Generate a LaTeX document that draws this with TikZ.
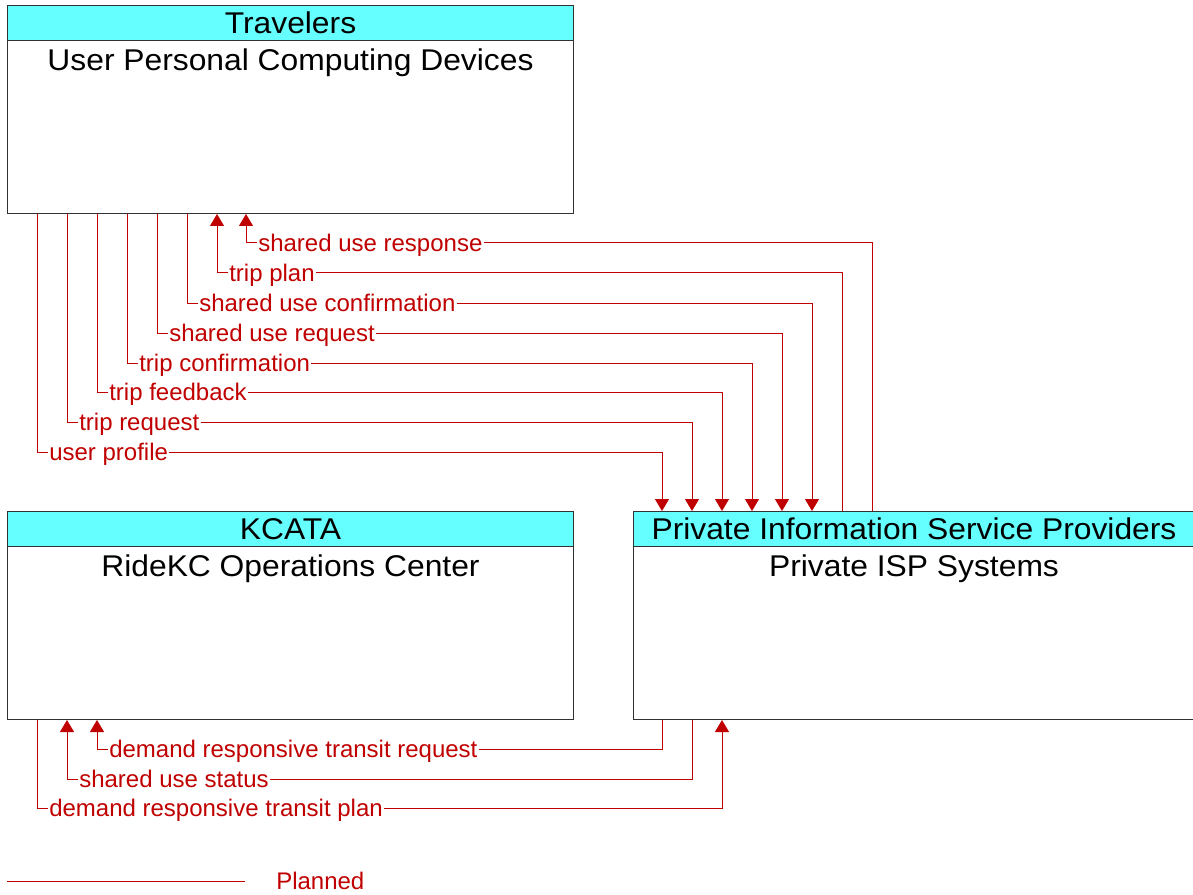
\documentclass[tikz,border=0pt]{standalone}
\usepackage{fontspec}
\setmainfont{Liberation Sans}
\newfontfamily\boxfont[FakeStretch=1.06]{Liberation Sans}
\usetikzlibrary{arrows.meta,positioning}

\definecolor{flowred}{RGB}{192,0,0}
\definecolor{hdrcyan}{RGB}{102,255,255}
\definecolor{boxline}{RGB}{50,50,50}

\tikzset{
  sysbox/.style={draw=boxline, line width=0.75pt, rectangle, inner sep=0pt,
    minimum height=156pt, anchor=north west},
  hdrbox/.style={draw=boxline, fill=hdrcyan, line width=0.75pt, rectangle,
    inner sep=0pt, minimum height=26.5pt, anchor=north west,
    text height=16.1pt, text depth=0pt, font=\boxfont\fontsize{22.5}{27}\selectfont},
  systitle/.style={inner sep=0pt, text height=16.1pt, text depth=0pt,
    font=\boxfont\fontsize{22.5}{27}\selectfont},
  flowlbl/.style={anchor=west, inner xsep=0.75pt, inner ysep=0pt,
    text height=12.9pt, text depth=0pt, text=flowred,
    font=\fontsize{18}{21}\selectfont},
  flowline/.style={draw=flowred, line width=0.75pt},
  flowtip/.style={-{Triangle[width=10.5pt,length=9pt]}}
}

\begin{document}
\begin{tikzpicture}[x=0.75pt, y=-0.75pt]
\useasboundingbox (0,0) rectangle (1193,895);

% systems
\node[sysbox, minimum width=424.5pt] (trav) at (7,5) {};
\node[hdrbox, minimum width=424.5pt] (travhd) at (7,5) {Travelers};
\node[systitle, below=5.25pt of travhd] (travtl) {User Personal Computing Devices};

\node[sysbox, minimum width=424.5pt] (kcata) at (7,511) {};
\node[hdrbox, minimum width=424.5pt] (kcatahd) at (7,511) {KCATA};
\node[systitle, below=5.25pt of kcatahd] (kcatatl) {RideKC Operations Center};

\node[sysbox, minimum width=420.75pt] (isp) at (633,511) {};
\node[hdrbox, minimum width=420.75pt] (isphd) at (633,511) {Private Information Service Providers};
\node[systitle, below=5.25pt of isphd] (isptl) {Private ISP Systems};

% flow labels
\node[flowlbl] (resp) at (257,243) {shared use response};
\node[flowlbl] (tplan) at (228,272.6) {trip plan};
\node[flowlbl] (sconf) at (198,303) {shared use confirmation};
\node[flowlbl] (sreq) at (168,333) {shared use request};
\node[flowlbl] (tconf) at (138,363) {trip confirmation};
\node[flowlbl] (tfb) at (108,392) {trip feedback};
\node[flowlbl] (treq) at (78,422) {trip request};
\node[flowlbl] (uprof) at (48,452) {user profile};
\node[flowlbl] (drtreq) at (108,749) {demand responsive transit request};
\node[flowlbl] (sstat) at (78,779) {shared use status};
\node[flowlbl] (drtplan) at (48,808) {demand responsive transit plan};

% travelers <-> private isp
\draw[flowline] (isp.north -| 872,0) |- (resp.east);
\draw[flowline, flowtip] (resp.west) -| (trav.south -| 246,0);
\draw[flowline] (isp.north -| 842,0) |- (tplan.east);
\draw[flowline, flowtip] (tplan.west) -| (trav.south -| 217,0);
\draw[flowline] (trav.south -| 187,0) |- (sconf.west);
\draw[flowline, flowtip] (sconf.east) -| (isp.north -| 812,0);
\draw[flowline] (trav.south -| 157,0) |- (sreq.west);
\draw[flowline, flowtip] (sreq.east) -| (isp.north -| 782,0);
\draw[flowline] (trav.south -| 127,0) |- (tconf.west);
\draw[flowline, flowtip] (tconf.east) -| (isp.north -| 752,0);
\draw[flowline] (trav.south -| 97,0) |- (tfb.west);
\draw[flowline, flowtip] (tfb.east) -| (isp.north -| 722,0);
\draw[flowline] (trav.south -| 67,0) |- (treq.west);
\draw[flowline, flowtip] (treq.east) -| (isp.north -| 692,0);
\draw[flowline] (trav.south -| 37,0) |- (uprof.west);
\draw[flowline, flowtip] (uprof.east) -| (isp.north -| 662,0);

% kcata <-> private isp
\draw[flowline] (isp.south -| 662,0) |- (drtreq.east);
\draw[flowline, flowtip] (drtreq.west) -| (kcata.south -| 97,0);
\draw[flowline] (isp.south -| 692,0) |- (sstat.east);
\draw[flowline, flowtip] (sstat.west) -| (kcata.south -| 67,0);
\draw[flowline] (kcata.south -| 37,0) |- (drtplan.west);
\draw[flowline, flowtip] (drtplan.east) -| (isp.south -| 722,0);

% legend
\coordinate (legs) at (7,881);
\coordinate (lege) at (245,881);
\draw[flowline] (legs) -- (lege);
\node[flowlbl] (legtxt) at (275,881) {Planned};
\end{tikzpicture}
\end{document}
